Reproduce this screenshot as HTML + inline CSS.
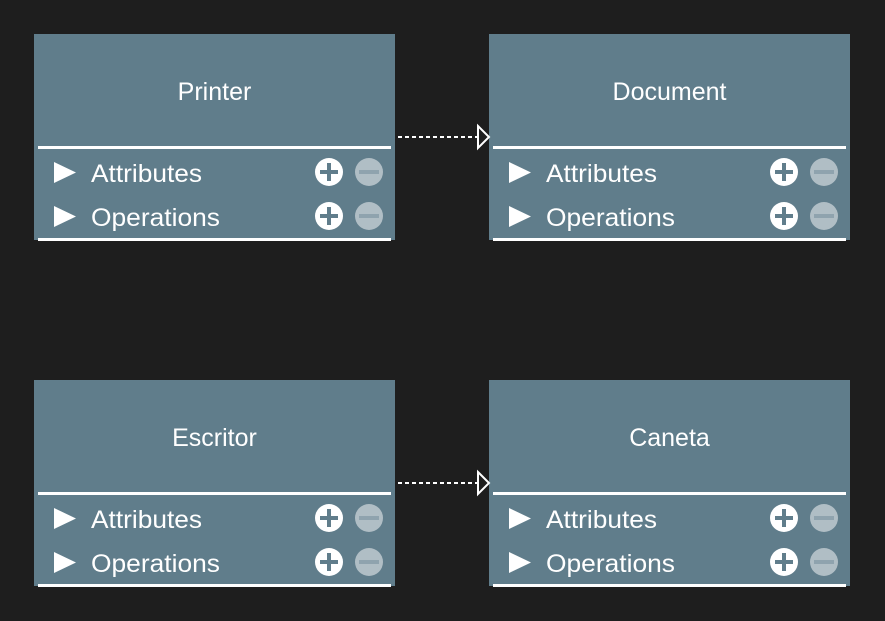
<!DOCTYPE html>
<html><head><meta charset="utf-8"><style>
html,body{margin:0;padding:0;background:#1e1e1e;}
svg{display:block;}
text{font-family:"Liberation Sans",Arial,sans-serif;fill:#fff;}
</style></head><body>
<svg width="885" height="621" viewBox="0 0 885 621" xmlns="http://www.w3.org/2000/svg">
<rect width="885" height="621" fill="#1e1e1e"/>
<defs>
<g id="row">
  <polygon points="54,162 76,172.5 54,183" fill="#fff"/>
  <circle cx="329" cy="172" r="14" fill="#fff"/>
  <rect x="320" y="170" width="18" height="4" fill="#607d8b"/>
  <rect x="327" y="163" width="4" height="18" fill="#607d8b"/>
  <circle cx="369" cy="172" r="14" fill="#b0bec5"/>
  <rect x="359" y="170" width="20" height="4" fill="#8fa3ae"/>
</g>
<g id="box">
  <rect x="34" y="34" width="361" height="206" fill="#607d8b"/>
  <rect x="38" y="146" width="353" height="3" fill="#fff"/>
  <rect x="38" y="238" width="353" height="3" fill="#fff"/>
  <use href="#row"/>
  <use href="#row" y="44"/>
  <text x="91" y="182" font-size="25" textLength="111" lengthAdjust="spacingAndGlyphs">Attributes</text>
  <text x="91" y="226" font-size="25" textLength="129" lengthAdjust="spacingAndGlyphs">Operations</text>
</g>
<g id="arrow">
  <line x1="398" y1="137" x2="477" y2="137" stroke="#fff" stroke-width="2" stroke-dasharray="4,3"/>
  <polygon points="478,126 489,137 478,148" fill="#1e1e1e" stroke="#fff" stroke-width="2"/>
</g>
</defs>
<use href="#box"/>
<use href="#box" x="455"/>
<use href="#box" y="346"/>
<use href="#box" x="455" y="346"/>
<use href="#arrow"/>
<use href="#arrow" y="346"/>
<text x="214.5" y="100" font-size="25" text-anchor="middle">Printer</text>
<text x="669.5" y="100" font-size="25" text-anchor="middle">Document</text>
<text x="214.5" y="446" font-size="25" text-anchor="middle">Escritor</text>
<text x="669.5" y="446" font-size="25" text-anchor="middle">Caneta</text>
</svg>
</body></html>
